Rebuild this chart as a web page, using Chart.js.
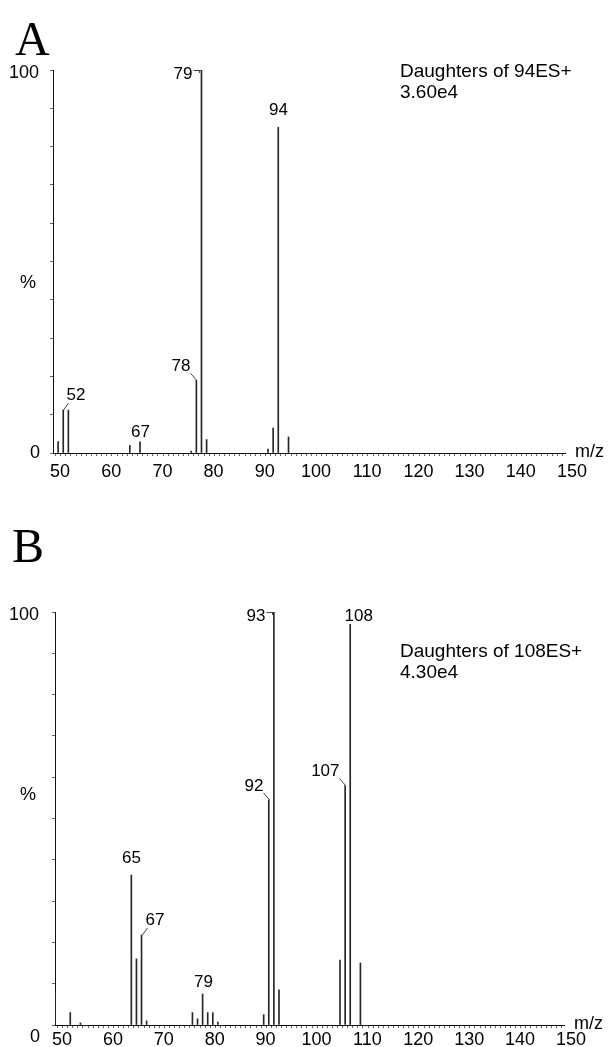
<!DOCTYPE html>
<html><head><meta charset="utf-8">
<script src="https://cdn.jsdelivr.net/npm/chart.js@4.4.0/dist/chart.umd.min.js"></script>
<style>
html,body{margin:0;padding:0;background:#fff;}
#wrap{position:relative;width:608px;height:1047px;overflow:hidden;}
canvas{position:absolute;left:0;}
</style></head><body>
<div id="wrap">
<canvas id="cA" width="608" height="520" style="top:0px"></canvas>
<canvas id="cB" width="608" height="527" style="top:520px"></canvas>
</div>
<script>
// ---- data ----
const xTickLabels = [50, 60, 70, 80, 90, 100, 110, 120, 130, 140, 150];
const yTickLabels = ["100", "%", "0"];

const mzA  = [51, 52, 53, 65, 67, 77, 78, 79, 80, 92, 93, 94, 96];
const intA = [3, 11.2, 11.2, 2, 2.9, 0.5, 19, 100, 3.5, 1, 6.5, 85, 4.2];
const peakLabelsA = [52, 67, 78, 79, 94];
const titleA = ["Daughters of 94ES+", "3.60e4"];

const mzB  = [50, 53, 55, 65, 66, 67, 68, 77, 78, 79, 80, 81, 82, 91, 92, 93, 94, 106, 107, 108, 110];
const intB = [7.7, 3, 0.5, 36.3, 16, 21.8, 1, 3, 1.5, 7.5, 3, 3, 0.7, 2.5, 54.5, 100, 8.5, 15.7, 58, 97, 15];
const peakLabelsB = [65, 67, 79, 92, 93, 107, 108];
const titleB = ["Daughters of 108ES+", "4.30e4"];

// ---- label placement (styling only) ----
const placeA = {52:{s:'rl'}, 67:{s:'top',g:5}, 78:{s:'ll'}, 79:{s:'ld'}, 94:{s:'top',g:12}};
const placeB = {65:{s:'top',g:12}, 67:{s:'rl'}, 79:{s:'top',g:7}, 92:{s:'ll'}, 93:{s:'ld'}, 107:{s:'ll'}, 108:{s:'rt'}};

const SANS = '"Liberation Sans", Arial, Helvetica, sans-serif';
const SERIF = '"Liberation Serif", "Times New Roman", serif';

function decoPlugin(cfg){
  return {
    id: 'deco',
    afterDraw(chart){
      const ctx = chart.ctx, xs = chart.scales.x, ys = chart.scales.y;
      const meta = chart.getDatasetMeta(0);
      ctx.save();
      ctx.fillStyle = '#000';
      ctx.strokeStyle = '#444';
      ctx.lineWidth = 1;
      // panel letter
      ctx.font = '48px ' + SERIF;
      ctx.textAlign = 'left'; ctx.textBaseline = 'alphabetic';
      ctx.fillText(cfg.letter, cfg.letterX, cfg.letterBase);
      // y labels
      ctx.font = '18px ' + SANS;
      ctx.textAlign = 'right'; ctx.textBaseline = 'middle';
      ctx.fillText(yTickLabels[0], 39, ys.getPixelForValue(100) + 3);
      ctx.textAlign = 'center';
      ctx.fillText(yTickLabels[1], 28, ys.getPixelForValue(cfg.pctLevel));
      ctx.textAlign = 'right';
      ctx.fillText(yTickLabels[2], 40, ys.getPixelForValue(0) + cfg.zeroDy);
      // m/z
      ctx.textAlign = 'left'; ctx.textBaseline = 'middle';
      ctx.fillText('m/z', xs.right + 10, ys.getPixelForValue(0) - 1);
      // annotation
      ctx.font = '19px ' + SANS;
      ctx.fillText(cfg.title[0], cfg.titleX, cfg.titleY);
      ctx.fillText(cfg.title[1], cfg.titleX, cfg.titleY + 21);
      // peak labels
      ctx.font = '17px ' + SANS;
      ctx.textBaseline = 'alphabetic';
      cfg.labels.forEach(mz => {
        const i = cfg.mz.indexOf(mz);
        const el = meta.data[i];
        const x = Math.round(el.x) + 0.5, top = el.y;
        const p = cfg.place[mz] || {s:'top', g:6};
        const t = String(mz);
        ctx.beginPath();
        if (p.s === 'top') {
          ctx.textAlign = 'center';
          ctx.fillText(t, x, top - (p.g || 6));
        } else if (p.s === 'ld') {
          ctx.textAlign = 'right';
          ctx.fillText(t, x - 9, top + 9);
          ctx.moveTo(x - 8, Math.round(top) + 0.5); ctx.lineTo(x, Math.round(top) + 0.5);
          ctx.moveTo(x - 2, Math.round(top) + 0.5); ctx.lineTo(x - 2, top + 3);
          ctx.stroke();
        } else if (p.s === 'll') {
          ctx.textAlign = 'right';
          ctx.fillText(t, x - 6, top - 9);
          ctx.moveTo(x - 6, top - 7); ctx.lineTo(x, top);
          ctx.stroke();
        } else if (p.s === 'rl') {
          ctx.textAlign = 'left';
          ctx.fillText(t, x + 3, top - 10);
          ctx.moveTo(x + 5, top - 7); ctx.lineTo(x, top);
          ctx.stroke();
        } else if (p.s === 'rt') {
          ctx.textAlign = 'left';
          ctx.fillText(t, x - 6, top - 3);
        }
      });
      ctx.restore();
    }
  };
}

function makeChart(id, mz, inten, opts){
  const data = mz.map((m, i) => ({x: m, y: inten[i]}));
  return new Chart(document.getElementById(id), {
    type: 'bar',
    data: { datasets: [{ data, backgroundColor: '#262626', barThickness: 1, borderWidth: 0, grouped: false }] },
    options: {
      responsive: false,
      animation: false,
      events: [],
      devicePixelRatio: 1,
      layout: { padding: { top: opts.top, right: opts.right, left: 0, bottom: 0 } },
      plugins: { legend: { display: false }, tooltip: { enabled: false } },
      scales: {
        x: {
          type: 'linear', min: 50, max: 150, offset: false,
          afterFit: s => { s.height = opts.xh; },
          grid: { drawOnChartArea: false, drawTicks: true, tickLength: 3, color: '#333', tickColor: '#666' },
          border: { display: true, color: '#111', width: 1 },
          ticks: {
            stepSize: 1, autoSkip: false, maxRotation: 0, minRotation: 0,
            padding: opts.xpad, labelOffset: 7, color: '#000',
            font: { family: SANS, size: 18 },
            callback: v => xTickLabels.includes(v) ? String(v) : ''
          }
        },
        y: {
          min: 0, max: 100,
          afterFit: s => { s.width = opts.left; },
          grid: { drawOnChartArea: false, drawTicks: true, tickLength: 3, color: '#333', tickColor: '#666' },
          border: { display: true, color: '#111', width: 1 },
          ticks: { stepSize: 10, callback: () => '', padding: 0 }
        }
      }
    },
    plugins: [decoPlugin(opts.deco)]
  });
}

makeChart('cA', mzA, intA, {
  top: 70, right: 43, left: 53, xh: 520 - 453, xpad: 5,
  deco: { letter: 'A', letterX: 15, letterBase: 55, title: titleA, titleX: 400, titleY: 72,
          pctLevel: 44.4, zeroDy: 0,
          labels: peakLabelsA, mz: mzA, place: placeA }
});
makeChart('cB', mzB, intB, {
  top: 92, right: 44, left: 55, xh: 527 - 505, xpad: 1,
  deco: { letter: 'B', letterX: 12, letterBase: 42, title: titleB, titleX: 400, titleY: 132,
          pctLevel: 55.7, zeroDy: 12,
          labels: peakLabelsB, mz: mzB, place: placeB }
});
</script>
</body></html>
